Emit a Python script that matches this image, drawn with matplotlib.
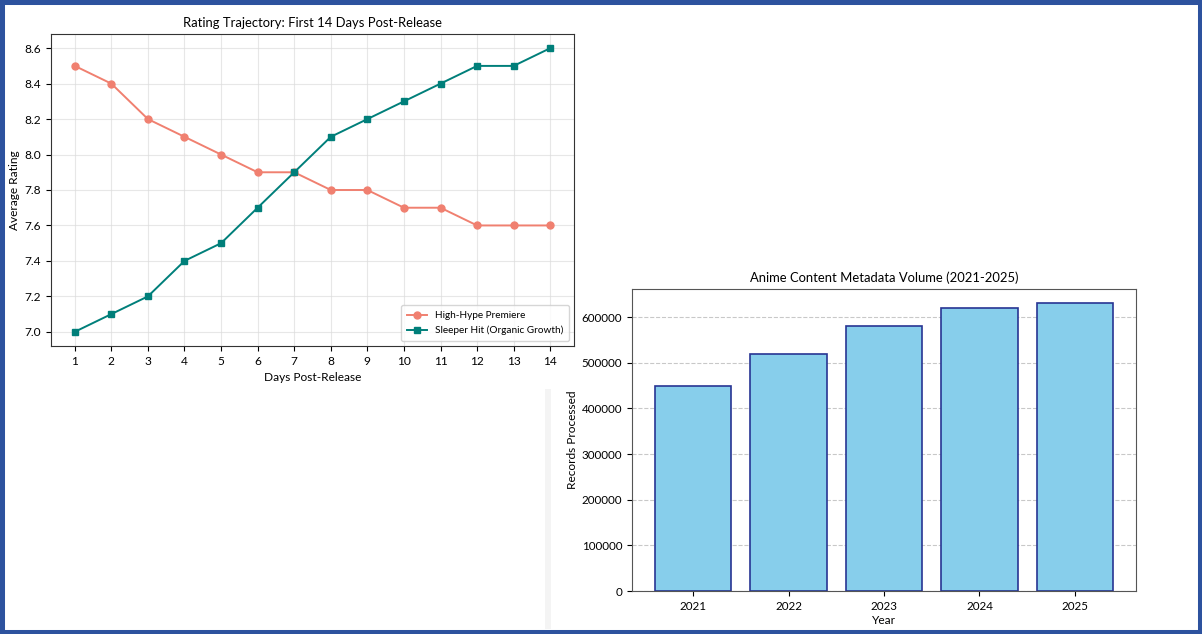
import matplotlib.pyplot as plt
import matplotlib.patches as patches

plt.rcParams['font.family'] = ['Lato', 'DejaVu Sans']

# rating trajectory data
days = list(range(1, 15))
hype = [8.5, 8.4, 8.2, 8.1, 8.0, 7.9, 7.9, 7.8, 7.8, 7.7, 7.7, 7.6, 7.6, 7.6]
sleeper = [7.0, 7.1, 7.2, 7.4, 7.5, 7.7, 7.9, 8.1, 8.2, 8.3, 8.4, 8.5, 8.5, 8.6]

# metadata volume data
years = ['2021', '2022', '2023', '2024', '2025']
records = [450000, 520000, 580000, 620000, 630000]

fig = plt.figure(figsize=(12.02, 6.34), dpi=100)
fig.patch.set_facecolor('white')

# left chart
ax1 = fig.add_axes([51 / 1202, 1 - 346 / 634, 523 / 1202, 312 / 634])
ax1.plot(days, hype, color='#F08070', marker='o', markersize=5, linewidth=1.4,
         label='High-Hype Premiere')
ax1.plot(days, sleeper, color='#007F7A', marker='s', markersize=5, linewidth=1.4,
         label='Sleeper Hit (Organic Growth)')
ax1.set_xticks(days)
ax1.set_title('Rating Trajectory: First 14 Days Post-Release', fontsize=9.4, pad=5)
ax1.set_xlabel('Days Post-Release', fontsize=8.6, labelpad=4)
ax1.set_ylabel('Average Rating', fontsize=8.6, labelpad=3)
ax1.tick_params(labelsize=8.6)
ax1.grid(True, color='#dddddd', linewidth=0.8, alpha=0.7)
ax1.legend(loc='lower right', fontsize=7.2, borderpad=0.6)
for s in ax1.spines.values():
    s.set_color('#333333')

# right chart
ax2 = fig.add_axes([632 / 1202, 1 - 591 / 634, 504 / 1202, 302 / 634])
ax2.bar(years, records, color='#87CEEB', edgecolor='#283593', linewidth=1.2)
ax2.set_title('Anime Content Metadata Volume (2021-2025)', fontsize=9.4, pad=5)
ax2.set_xlabel('Year', fontsize=8.6, labelpad=2)
ax2.set_ylabel('Records Processed', fontsize=8.6, labelpad=3)
ax2.tick_params(labelsize=8.4)
ax2.grid(True, axis='y', linestyle='--', color='#bbbbbb', linewidth=0.8, alpha=0.8)
ax2.set_axisbelow(True)
for s in ax2.spines.values():
    s.set_color('#555555')

# faint panel edge behind right chart
fig.add_artist(patches.Rectangle((545 / 1202, 5 / 634), 6 / 1202, 240 / 634,
                                 transform=fig.transFigure, facecolor='#f4f4f4',
                                 edgecolor='none'))

# blue frame
fig.add_artist(patches.Rectangle((0, 0), 1, 1, transform=fig.transFigure,
                                 facecolor='none', edgecolor='#2D529E', linewidth=6.5))

fig.savefig('out.png', dpi=100)
